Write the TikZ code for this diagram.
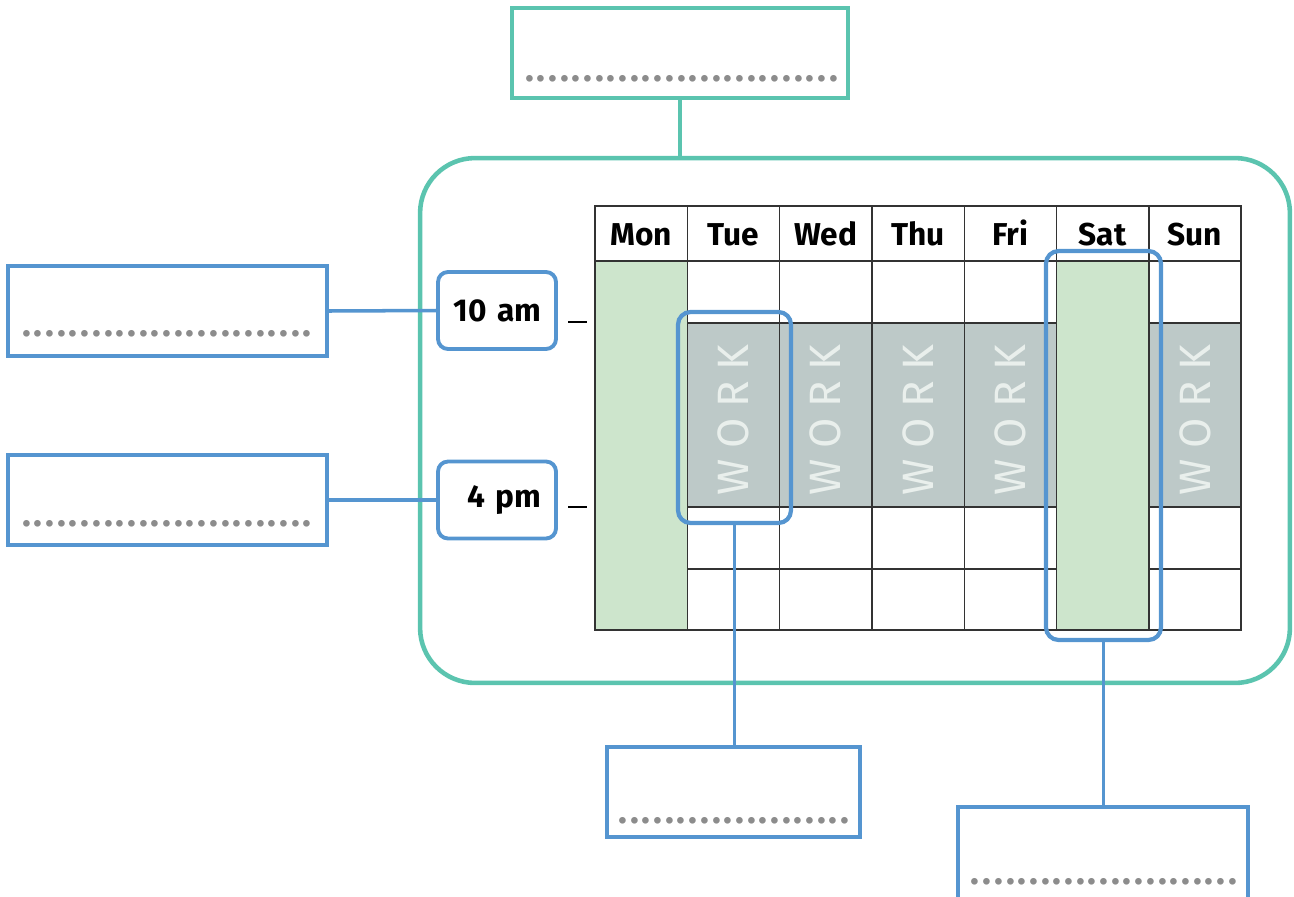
\documentclass[tikz,border=0pt]{standalone}
\usepackage{fontspec}
\setmainfont{Fira Sans}
\definecolor{framegreen}{HTML}{5BC4AF}
\definecolor{noteblue}{HTML}{5595D0}
\definecolor{restgreen}{HTML}{CDE5CC}
\definecolor{workgray}{HTML}{BDC9C8}
\definecolor{workletter}{HTML}{E9EFEC}
\definecolor{dotgray}{HTML}{8C8C8C}
\definecolor{gridline}{HTML}{333333}
\newcommand\dotrow[1]{\foreach \n in {1,...,#1}{\makebox[0.234cm]{.}}}
\begin{document}
\begin{tikzpicture}[x=0.02cm, y=-0.02cm,
  every node/.style={font=\bfseries\fontsize{18}{21}\selectfont},
  note/.style={draw=noteblue, line width=2.2pt, minimum width=6.38cm, minimum height=1.8cm, inner sep=0},
  topnote/.style={draw=framegreen, line width=2pt, minimum width=6.72cm, minimum height=1.8cm, inner sep=0},
  timebox/.style={draw=noteblue, line width=2.2pt, rounded corners=0.2cm, text width=1.78cm, align=right,
    inner xsep=0.29cm, minimum height=1.54cm},
  pick/.style={draw=noteblue, line width=2.4pt, rounded corners=0.25cm, inner sep=0},
  link/.style={noteblue, line width=2pt},
  grid/.style={gridline, line width=0.8pt},
  dots/.style={text=dotgray, inner sep=0, font=\bfseries\fontsize{21}{24}\selectfont},
  day/.style={anchor=base, inner sep=0},
  work/.style={rotate=90, text=workletter, inner sep=0, font=\mdseries\fontsize{25}{30}\selectfont}]
  \useasboundingbox (0,0) rectangle (1294,896);
  % week frame and its note
  \node[draw=framegreen, line width=2.6pt, rounded corners=1.1cm, minimum width=17.4cm,
    minimum height=10.5cm] (week) at (855,420.5) {};
  \node[topnote] (weeknote) at (680,53) {};
  \node[dots] (weekdots) at (681.5,79) {\dotrow{27}};
  \draw[framegreen, line width=2pt] (weeknote.south) -- (weeknote.south |- week.north);
  % table
  \fill[restgreen] (595,261) rectangle (687.3,630);
  \fill[restgreen] (1056.5,261) rectangle (1148.8,630);
  \fill[workgray] (687.3,323) rectangle (1056.5,507);
  \fill[workgray] (1148.8,323) rectangle (1241,507);
  \draw[grid] (595,206) rectangle (1241,630);
  \draw[grid] (595,261) -- (1241,261);
  \foreach \i in {1,...,6}
    \draw[grid] ({595+92.3*\i},206) -- ({595+92.3*\i},630);
  \foreach \y in {323,507,569} {
    \draw[grid] (687.3,\y) -- (1056.5,\y);
    \draw[grid] (1148.8,\y) -- (1241,\y);
  }
  \foreach \d [count=\i] in {Mon,Tue,Wed,Thu,Fri,Sat,Sun}
    \node[day] (\d) at ({595+92.3*(\i-0.5)},245) {\d};
  \foreach \c in {1,2,3,4,6}
    \node[work] (work\c) at ({595+92.3*(\c+0.5)},420) {W\hspace{0.21cm}O\hspace{0.21cm}R\hspace{0.21cm}K};
  % hours
  \draw[black, line width=0.9pt] (568,322) -- (587,322);
  \draw[black, line width=0.9pt] (568,507) -- (587,507);
  \node[timebox] (ten) at (497,310.5) {10 am};
  \node[timebox] (four) at (497,500) {4 pm};
  \node[note] (tennote) at (167.5,311) {};
  \node[note] (fournote) at (167.5,500) {};
  \node[dots] (tendots) at (167,334) {\dotrow{25}};
  \node[dots] (fourdots) at (167,524) {\dotrow{25}};
  \draw[link] (tennote.east) -- (ten.west);
  \draw[link] (fournote.east) -- (four.west);
  % picked days
  \node[pick, minimum width=2.26cm, minimum height=4.22cm] (tuepick) at (734.5,417.5) {};
  \node[pick, minimum width=2.3cm, minimum height=7.78cm] (satpick) at (1103.5,445.5) {};
  \node[note, minimum width=5.06cm] (tuenote) at (733.5,792) {};
  \node[note, minimum width=5.8cm, minimum height=1.9cm] (satnote) at (1103,854.5) {};
  \node[dots] (tuedots) at (734,821) {\dotrow{20}};
  \node[dots] (satdots) at (1104,882) {\dotrow{23}};
  \draw[link] (tuepick.south) -- (tuepick.south |- tuenote.north);
  \draw[link] (satpick.south) -- (satpick.south |- satnote.north);
\end{tikzpicture}
\end{document}
